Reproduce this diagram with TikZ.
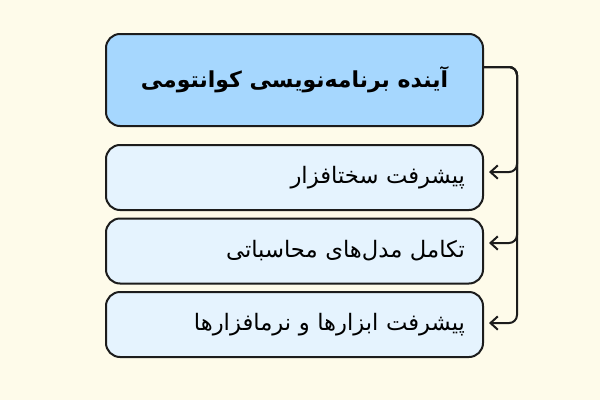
\documentclass[tikz,border=0pt]{standalone}
\usepackage{fontspec}
\usetikzlibrary{arrows.meta}
\TeXXeTstate=1
\newfontfamily\arabicfont[Script=Arabic]{DejaVu Sans}
\definecolor{bgc}{HTML}{FEFBEA}
\definecolor{topfill}{HTML}{A6D7FE}
\definecolor{subfill}{HTML}{E5F3FE}
\definecolor{edgec}{HTML}{1C1C1C}
\tikzset{
  boxbase/.style={draw=edgec, line width=1.5pt, rounded corners=10.5pt,
    minimum width=282.75pt, inner sep=0pt},
  topbox/.style={boxbase, fill=topfill, minimum height=69pt,
    font=\arabicfont\bfseries\fontsize{16.5}{20}\selectfont},
  subbox/.style={boxbase, fill=subfill, minimum height=48.75pt,
    text width=255.75pt, align=right,
    font=\arabicfont\fontsize{17}{20}\selectfont},
  linkline/.style={draw=edgec, line width=1.5pt, rounded corners=6pt,
    -{Straight Barb[length=5.5pt,width=10pt,line width=1.5pt]}, shorten >=3.75pt}
}
\begin{document}
\begin{tikzpicture}[x=0.75pt,y=-0.75pt]
\useasboundingbox[fill=bgc] (0,0) rectangle (600,400);
\node[topbox] (top) at (294.5,80) {\beginR آینده برنامه‌نویسی کوانتومی\endR};
\node[subbox] (b1) at (294.5,177.5) {\beginR پیشرفت سختافزار\endR};
\node[subbox] (b2) at (294.5,251) {\beginR تکامل مدل‌های محاسباتی\endR};
\node[subbox] (b3) at (294.5,324.5) {\beginR پیشرفت ابزارها و نرمافزارها\endR};
\coordinate (rail) at (517,0);
\coordinate (s0) at ([yshift=9.75pt]top.east);
\coordinate (e1) at ([yshift=4.1pt]b1.east);
\coordinate (e2) at ([yshift=6pt]b2.east);
\coordinate (e3) at ([yshift=1.1pt]b3.east);
\draw[linkline] (s0) -- (s0 -| rail) |- (e1);
\draw[linkline] (s0) -- (s0 -| rail) |- (e2);
\draw[linkline] (s0) -- (s0 -| rail) |- (e3);
\end{tikzpicture}
\end{document}
